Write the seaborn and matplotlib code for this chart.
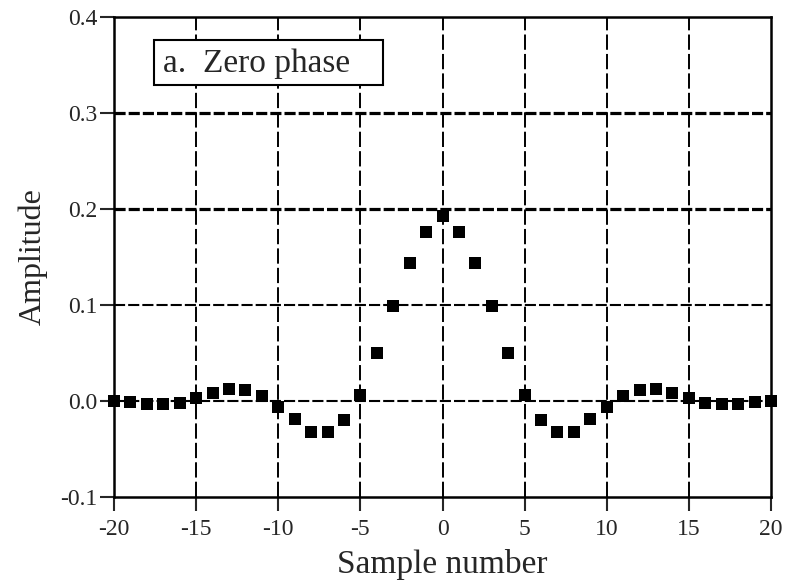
import numpy as np
import pandas as pd
import matplotlib
matplotlib.use("Agg")
import matplotlib.pyplot as plt
import seaborn as sns

# sample numbers and filter kernel amplitudes
samples = list(range(-20, 21))
right_half = [0.193, 0.176, 0.144, 0.099, 0.050, 0.006, -0.020, -0.032, -0.032,
              -0.019, -0.006, 0.005, 0.011, 0.012, 0.008, 0.003, -0.002,
              -0.003, -0.003, -0.001, 0.000]
amplitude = right_half[:0:-1] + right_half

x_ticks = [-20, -15, -10, -5, 0, 5, 10, 15, 20]
y_ticks = [-0.1, 0.0, 0.1, 0.2, 0.3, 0.4]
panel_label = "a.  Zero phase"

df = pd.DataFrame({"Sample number": samples, "Amplitude": amplitude})

sns.set_style("white")
plt.rcParams["font.family"] = ["Liberation Serif", "DejaVu Serif"]
plt.rcParams["lines.scale_dashes"] = False

fig = plt.figure(figsize=(7.86, 5.81), dpi=100)
ax = fig.add_axes([114 / 786, 1 - 497 / 581, 657 / 786, 480 / 581])

# dashed grid (the 0.2 / 0.3 lines are drawn heavier in the original)
for xv in x_ticks[1:-1]:
    ax.axvline(xv, color="black", lw=1.4, ls=(0, (11, 3)), zorder=1)
for yv in y_ticks[1:-1]:
    lw = 2.3 if yv >= 0.2 else 1.5
    ax.axhline(yv, color="black", lw=lw, ls=(0, (8, 2.2)), zorder=1)

sns.scatterplot(data=df, x="Sample number", y="Amplitude", marker="s",
                s=85, color="black", edgecolor="black", linewidth=0,
                ax=ax, zorder=3, clip_on=False)

ax.set_xlim(-20, 20)
ax.set_ylim(-0.1, 0.4)
ax.set_xticks(x_ticks)
ax.set_yticks(y_ticks)
ax.set_xticklabels([str(v) for v in x_ticks])
ax.set_yticklabels([f"{v:.1f}" for v in y_ticks])
ax.tick_params(direction="out", length=10, width=1.5, labelsize=17,
               bottom=True, left=True, pad=2)
ax.tick_params(axis="x", pad=6)
ax.set_xlabel("Sample number", fontsize=24, labelpad=6)
ax.set_ylabel("Amplitude", fontsize=23, labelpad=9)

for sp in ax.spines.values():
    sp.set_visible(True)
    sp.set_color("black")
    sp.set_linewidth(1.8)

# panel label in a white box
ax.add_patch(plt.Rectangle((0.061, 0.858), 0.348, 0.094, transform=ax.transAxes,
                           facecolor="white", edgecolor="black", lw=1.5,
                           zorder=4))
ax.text(0.075, 0.902, panel_label, transform=ax.transAxes, fontsize=24,
        va="center", ha="left", zorder=5)

fig.savefig("out.png", dpi=100)
